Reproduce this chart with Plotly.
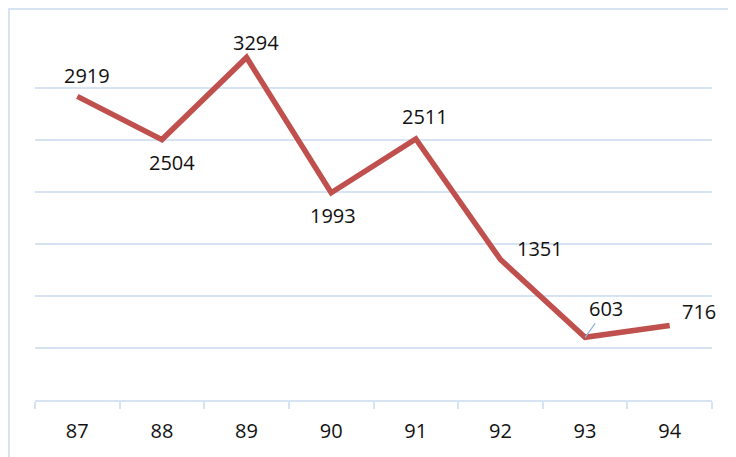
import plotly.graph_objects as go

# valeurs
years = ['87', '88', '89', '90', '91', '92', '93', '94']
values = [2919, 2504, 3294, 1993, 2511, 1351, 603, 716]

# décalage des étiquettes (pixels)
label_dx = [10, 10, 9, 2, 9, 40, 21, 29]
label_dy = [21, -23, 15, -23, 22, 11, 29, 14]

grid_color = '#D6E3F3'
line_color = '#C0504D'
font_family = 'Open Sans, Noto Sans, sans-serif'

fig = go.Figure()
fig.add_trace(go.Scatter(
    x=years, y=values, mode='lines',
    line=dict(color=line_color, width=5.5),
    hoverinfo='x+y',
))

# sur un axe catégoriel, les annotations se placent par l'indice de la catégorie
annotations = []
for i in range(len(years)):
    if years[i] == '93':
        # étiquette avec ligne de rappel
        annotations.append(dict(
            x=i, y=values[i], text=str(values[i]),
            showarrow=True, arrowhead=0, arrowwidth=1.2, arrowcolor='#8DB3E2',
            ax=label_dx[i], ay=-label_dy[i], standoff=0,
            font=dict(size=20, color='#111111', family=font_family),
        ))
    else:
        annotations.append(dict(
            x=i, y=values[i], text=str(values[i]),
            showarrow=False, xshift=label_dx[i], yshift=label_dy[i],
            font=dict(size=20, color='#111111', family=font_family),
        ))

# la page html ajoute une marge de 8 px, d'où les marges réduites
fig.update_layout(
    width=736, height=457,
    margin=dict(l=27, r=32, t=28, b=65),
    paper_bgcolor='white', plot_bgcolor='white',
    showlegend=False,
    annotations=annotations,
    font=dict(family=font_family, size=20, color='#111111'),
    shapes=[dict(
        type='rect', xref='paper', yref='paper',
        x0=-0.0384, y0=-0.3, x1=1.2, y1=1.0742,
        line=dict(color=grid_color, width=2),
    )],
)
fig.update_xaxes(
    type='category', range=[-0.5, len(years) - 0.5], showgrid=False,
    showline=True, linecolor=grid_color, linewidth=2,
    ticks='outside', tickson='boundaries', ticklen=7, tickcolor=grid_color, tickwidth=2,
    ticklabelstandoff=12,
    tickfont=dict(size=20, color='#111111'),
)
fig.update_yaxes(
    range=[0, 3500], dtick=500, showticklabels=False,
    showgrid=True, gridcolor=grid_color, gridwidth=2,
    zeroline=False,
)

fig.write_html("out.html")
